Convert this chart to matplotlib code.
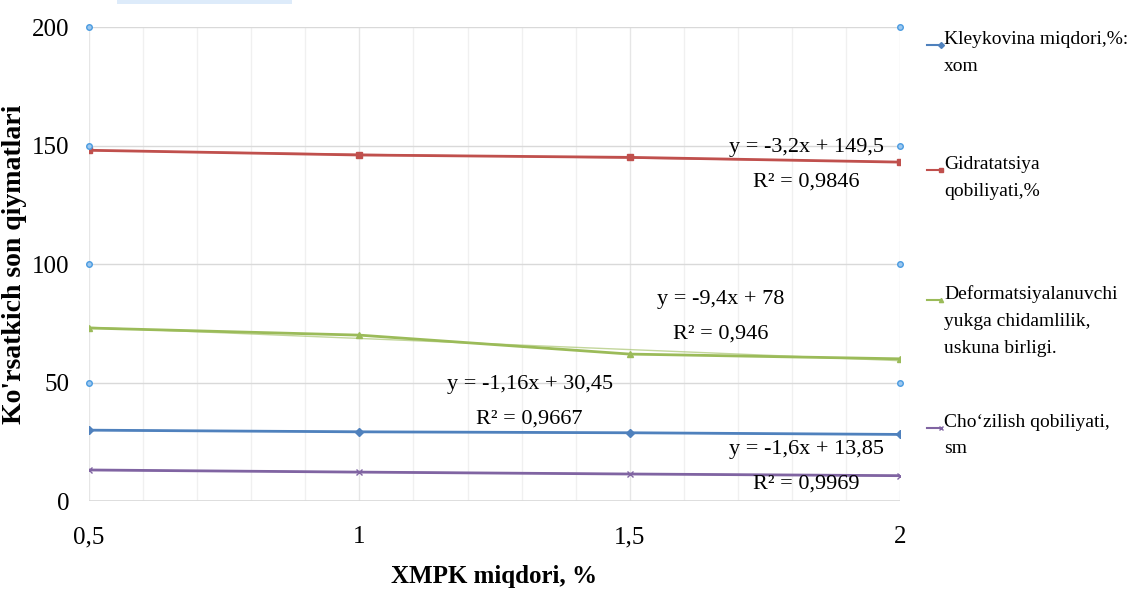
import numpy as np
import matplotlib
matplotlib.use("Agg")
import matplotlib.pyplot as plt
from matplotlib.lines import Line2D
from matplotlib.patches import Rectangle

# --- data ---
xmpk = [0.5, 1, 1.5, 2]
kleykovina = [29.9, 29.2, 28.8, 28.1]
gidratatsiya = [148, 146, 145, 143]
deformatsiya = [73, 70, 62, 60]
chozilish = [13.1, 12.2, 11.4, 10.7]

seriya_nomlari = ["Kleykovina miqdori,%:\nxom",
                  "Gidratatsiya\nqobiliyati,%",
                  "Deformatsiyalanuvchi\nyukga chidamlilik,\nuskuna birligi.",
                  "Cho\u2018zilish qobiliyati,\nsm"]
tenglamalar = ["y = -1,16x + 30,45\nR\u00b2 = 0,9667",
               "y = -3,2x + 149,5\nR\u00b2 = 0,9846",
               "y = -9,4x + 78\nR\u00b2 = 0,946",
               "y = -1,6x + 13,85\nR\u00b2 = 0,9969"]
xticks = [0.5, 1, 1.5, 2]
xtick_labels = ["0,5", "1", "1,5", "2"]
yticks = [0, 50, 100, 150, 200]

ranglar = ["#4F81BD", "#C0504D", "#9BBB59", "#8064A2"]
markerlar = ["D", "s", "^", "x"]

plt.rcParams['font.family'] = ['Liberation Serif', 'DejaVu Serif']

fig = plt.figure(figsize=(11.39, 5.9), dpi=100)
ax = fig.add_axes([0.0781, 0.1508, 0.7122, 0.8034])

seriyalar = [kleykovina, gidratatsiya, deformatsiya, chozilish]
for y, c, m in zip(seriyalar, ranglar, markerlar):
    ax.plot(xmpk, y, color=c, lw=2, marker=m, ms=4, mew=1, zorder=3)
    # chiziqli trend
    k, b = np.polyfit(xmpk, y, 1)
    xx = np.array([xmpk[0], xmpk[-1]])
    ax.plot(xx, k * xx + b, color=c, lw=1, alpha=0.6, zorder=2)

# tanlash belgilari (selection handles)
for xs in [0.5, 2]:
    ax.plot([xs] * 4, [50, 100, 150, 200], ls='none', marker='o', ms=4,
            mfc='#9CC8F0', mec='#4A9BE0', mew=1, zorder=4, clip_on=False)

ax.set_xlim(0.5, 2)
ax.set_ylim(0, 200)
ax.set_xticks(xticks)
ax.set_xticklabels(xtick_labels)
ax.set_yticks(yticks)
ax.set_xticks(np.arange(0.6, 2.0, 0.1), minor=True)
ax.tick_params(axis='both', which='both', length=0, labelsize=18)
ax.tick_params(axis='x', pad=18)
ax.tick_params(axis='y', pad=14)
ax.grid(axis='y', color='#D9D9D9', lw=1)
ax.grid(axis='x', which='major', color='#E6E6E6', lw=1)
ax.grid(axis='x', which='minor', color='#F0F0F0', lw=1)
ax.set_axisbelow(True)
for s in ax.spines.values():
    s.set_visible(False)
ax.axhline(0, color='#D9D9D9', lw=1.2, zorder=1)

ax.set_ylabel("Ko'rsatkich son qiymatlari", fontsize=20, fontweight='bold')
ax.yaxis.set_label_coords(-0.076, 0.5)
ax.set_xlabel("XMPK miqdori, %", fontsize=18, fontweight='bold')
ax.xaxis.set_label_coords(0.5, -0.135)

# trend tenglamalari
tpos = [(1.315, 42.0), (1.826, 142.0), (1.668, 77.8), (1.826, 14.6)]
for t, (px, py) in zip(tenglamalar, tpos):
    ax.text(px, py, t, ha='center', va='center', fontsize=16, linespacing=2.1, zorder=5)

# legend (qo'lda)
leg_y = [0.923, 0.712, 0.492, 0.275]
for nom, c, m, ly in zip(seriya_nomlari, ranglar, markerlar, leg_y):
    fig.add_artist(Line2D([0.814, 0.826], [ly, ly], color=c, lw=1.5,
                          marker=m, ms=3, markevery=[1]))
    fig.text(0.829, ly + 0.024, nom, ha='left', va='top', fontsize=14, linespacing=1.75)

fig.add_artist(Rectangle((0.103, 0.993), 0.153, 0.01, color='#DDEBFA', lw=0))

fig.savefig("out.png", dpi=100)
